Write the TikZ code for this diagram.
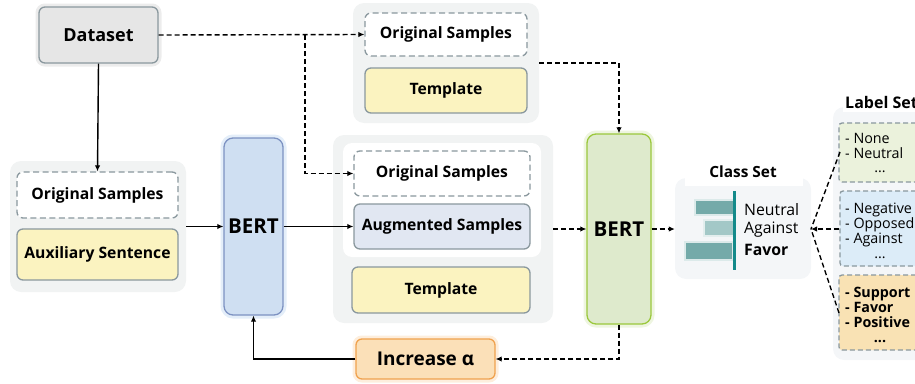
\documentclass[tikz,border=0pt]{standalone}
\usepackage{fontspec}
\setmainfont{Open Sans}
\usetikzlibrary{arrows.meta,positioning}
\definecolor{bordgray}{HTML}{8A989E}
\definecolor{grpbg}{HTML}{F1F3F3}
\definecolor{dsfill}{HTML}{E6E6E6}
\definecolor{yel}{HTML}{FBF3C0}
\definecolor{bluef}{HTML}{CFDFF2}
\definecolor{blued}{HTML}{7D92C2}
\definecolor{bglow}{HTML}{E4EEF9}
\definecolor{augf}{HTML}{E1E7F2}
\definecolor{greenf}{HTML}{DEEACC}
\definecolor{greend}{HTML}{9BC83C}
\definecolor{gglow}{HTML}{EEF5E0}
\definecolor{oraf}{HTML}{FBE0B8}
\definecolor{orad}{HTML}{F0A24E}
\definecolor{oglow}{HTML}{FDEEDD}
\definecolor{csbg}{HTML}{F4F6F8}
\definecolor{teal1}{HTML}{74AAA9}
\definecolor{teal2}{HTML}{A3C8C7}
\definecolor{tealline}{HTML}{138A8A}
\definecolor{lgreen}{HTML}{EBF2DC}
\definecolor{lblue}{HTML}{DCECF8}
\definecolor{lorange}{HTML}{F9E2B4}
\tikzset{
  x=1pt,y=-1pt,
  bx/.style={draw=bordgray,line width=1.3pt,rounded corners=6pt,inner sep=0pt,
    font=\fontsize{15.7}{18}\selectfont\bfseries,align=center},
  dbx/.style={bx,dashed,dash pattern=on 6pt off 3.5pt,fill=white},
  grp/.style={fill=grpbg,rounded corners=11pt,inner sep=0pt},
  glow/.style={preaction={draw=#1,line width=7pt}},
  dline/.style={line width=1.4pt,dash pattern=on 5pt off 3pt},
  sline/.style={line width=1.4pt},
  tip/.style={-{Latex[length=6pt,width=5.5pt]}},
  lbl/.style={font=\fontsize{14.3}{16}\selectfont,anchor=west,inner sep=0pt,text height=8pt,text depth=2pt},
  lblb/.style={lbl,font=\fontsize{14.3}{16}\selectfont\bfseries},
  dots/.style={font=\fontsize{14.3}{16}\selectfont,inner sep=0pt,text height=3pt,text depth=0pt},
  lbox/.style={draw=bordgray,line width=1.3pt,dash pattern=on 5pt off 3pt,rounded corners=3pt},
  cstxt/.style={font=\fontsize{15.8}{18}\selectfont,anchor=west,inner sep=0pt},
}
\begin{document}
\begin{tikzpicture}
\useasboundingbox (0,0) rectangle (915,383);
\clip (0,0) rectangle (915,383);
% group backgrounds
\node[grp,minimum width=176pt,minimum height=131pt] (lg) at (98,226.5) {};
\node[grp,minimum width=186pt,minimum height=120pt] (tg) at (446,63) {};
\node[grp,minimum width=220pt,minimum height=188pt] (mg) at (443,229) {};
\node[fill=white,rounded corners=9pt,inner sep=0pt,minimum width=198pt,minimum height=114pt] (wg) at (442,200) {};
% main boxes
\node[bx,fill=dsfill,glow=gray!15,minimum width=119pt,minimum height=56pt,font=\fontsize{18}{20}\selectfont\bfseries] (ds) at (98.5,35) {Dataset};
\node[dbx,minimum width=161pt,minimum height=46pt] (os1) at (97.5,195) {Original Samples};
\node[bx,fill=yel,minimum width=161pt,minimum height=51pt] (aux) at (97.5,254.5) {Auxiliary Sentence};
\node[bx,draw=blued,fill=bluef,glow=bglow,rounded corners=9pt,minimum width=59pt,minimum height=177pt,font=\fontsize{20.5}{22}\selectfont\bfseries] (b1) at (253.5,226.5) {BERT};
\node[dbx,minimum width=162pt,minimum height=43pt] (ost) at (446,34.5) {Original Samples};
\node[bx,fill=yel,minimum width=162pt,minimum height=45pt] (tpt) at (446,90.5) {Template};
\node[dbx,minimum width=176pt,minimum height=45pt] (os2) at (442,173.5) {Original Samples};
\node[bx,fill=augf,minimum width=176pt,minimum height=45pt] (aug) at (442,226.5) {Augmented Samples};
\node[bx,fill=yel,minimum width=178pt,minimum height=46pt] (tp2) at (441,290) {Template};
\node[bx,draw=greend,fill=greenf,glow=gglow,rounded corners=9pt,minimum width=64pt,minimum height=190pt,font=\fontsize{20.5}{22}\selectfont\bfseries] (b2) at (619,229) {BERT};
\node[bx,draw=orad,fill=oraf,glow=oglow,minimum width=139pt,minimum height=40pt,font=\fontsize{19}{21}\selectfont\bfseries] (inc) at (425.5,359) {Increase α};
% class set
\node[fill=csbg,rounded corners=11pt,inner sep=0pt,minimum width=136pt,minimum height=101pt] (cs) at (743,228.5) {};
\node[fill=white,inner sep=0pt,minimum width=118pt,minimum height=22pt] (cst) at (744,175) {};
\node[font=\fontsize{15.4}{18}\selectfont\bfseries,inner sep=0pt] (cstitle) at (743,172) {Class Set};
\fill[teal1,draw=teal1!25,line width=1.5pt] (695,200) rectangle (734,215);
\fill[teal2,draw=teal2!30,line width=1.5pt] (704,220) rectangle (734,236);
\fill[teal1,draw=teal1!25,line width=1.5pt] (685,242) rectangle (733,260);
\draw[tealline,line width=3pt] (734,191) -- (734,270);
\node[cstxt] (cn) at (744,210) {Neutral};
\node[cstxt] (ca) at (744,230) {Against};
\node[cstxt,font=\fontsize{15.8}{18}\selectfont\bfseries] (cf) at (744,250) {Favor};
% label set
\node[fill=csbg,rounded corners=11pt,inner sep=0pt,minimum width=110pt,minimum height=253pt] (ls) at (888,233.5) {};
\node[fill=white,inner sep=0pt,minimum width=90pt,minimum height=24pt] (lst) at (888,100) {};
\node[font=\fontsize{16}{18}\selectfont\bfseries,anchor=west,inner sep=0pt] (lstitle) at (845,102) {Label Set};
\node[lbox,fill=lgreen,minimum width=96pt,minimum height=59pt,inner sep=0pt] (l1) at (887,152.5) {};
\node[lbox,fill=lblue,minimum width=95pt,minimum height=75pt,inner sep=0pt] (l2) at (887.5,228.5) {};
\node[lbox,fill=lorange,minimum width=96pt,minimum height=75pt,inner sep=0pt] (l3) at (887,312.5) {};
\node[lbl] (t11) at (845,140) {- None};
\node[lbl] (t12) at (845,155) {- Neutral};
\node[dots] (t13) at (880,171) {...};
\node[lbl] (t21) at (845,210) {- Negative};
\node[lbl] (t22) at (845,225) {- Opposed};
\node[lbl] (t23) at (845,240) {- Against};
\node[dots] (t24) at (880,257) {...};
\node[lblb] (t31) at (845,294) {- Support};
\node[lblb] (t32) at (845,309) {- Favor};
\node[lblb] (t33) at (845,324) {- Positive};
\node[dots,font=\fontsize{14.3}{16}\selectfont\bfseries] (t34) at (880,341) {...};
% connectors
\coordinate (br) at (305,35);
\coordinate (csp) at (811,229);
\coordinate (l1p) at (840,152);
\coordinate (l3p) at (839,313);
\draw[sline,tip] (ds.south) -- (os1.north);
\draw[sline,tip] (lg.east) -- (b1.west);
\draw[sline,tip] (b1.east |- aug.west) -- (aug.west);
\draw[dline,tip] (ds.east) -- (ost.west);
\draw[dline,tip] (br) |- (os2.west);
\draw[dline,tip] (tg.east) -| (b2.north);
\draw[dline,tip] (mg.east) -- (mg.east -| b2.west);
\draw[dline,tip] (b2.south) |- (inc.east);
\draw[sline,tip] (inc.west) -| (b1.south);
\draw[dline,tip] (b2.east) -- (b2.east -| cs.west);
\draw[dline] (l1p) -- (csp);
\draw[dline] (l3p) -- (csp);
\draw[dline,tip] (l2.west |- csp) -- (csp);
\end{tikzpicture}
\end{document}
